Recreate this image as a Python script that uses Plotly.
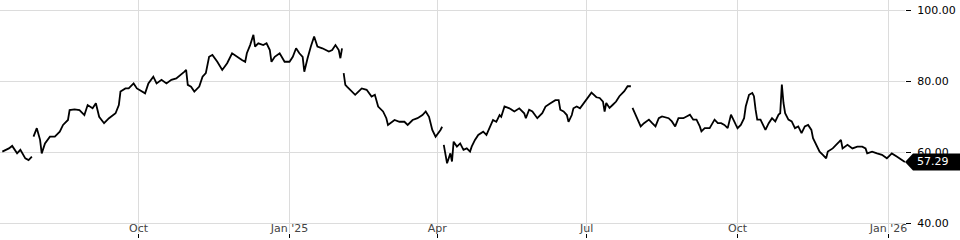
import plotly.graph_objects as go

# ---- data ----
dates = [
    "2024-07-10", "2024-07-14", "2024-07-16", "2024-07-19", "2024-07-21", "2024-07-24", "2024-07-26", "2024-07-28",
    "2024-07-29", "2024-07-31", "2024-08-02", "2024-08-03", "2024-08-05", "2024-08-08", "2024-08-11", "2024-08-14",
    "2024-08-16", "2024-08-19", "2024-08-20", "2024-08-23", "2024-08-26", "2024-08-29", "2024-08-31", "2024-09-03",
    "2024-09-05", "2024-09-07", "2024-09-10", "2024-09-13", "2024-09-17", "2024-09-19", "2024-09-20", "2024-09-23",
    "2024-09-25", "2024-09-28", "2024-09-30",
    "2024-10-03", "2024-10-05", "2024-10-07", "2024-10-10", "2024-10-12", "2024-10-15", "2024-10-18", "2024-10-21",
    "2024-10-24", "2024-10-27", "2024-10-29", "2024-10-30", "2024-10-31", "2024-11-02", "2024-11-04", "2024-11-07",
    "2024-11-09", "2024-11-11", "2024-11-13", "2024-11-15", "2024-11-18", "2024-11-21", "2024-11-24", "2024-11-27",
    "2024-11-30", "2024-12-03", "2024-12-05", "2024-12-06", "2024-12-08", "2024-12-10", "2024-12-11", "2024-12-13",
    "2024-12-16", "2024-12-18", "2024-12-20", "2024-12-21", "2024-12-23", "2024-12-26", "2024-12-29", "2025-01-01",
    "2025-01-03", "2025-01-05", "2025-01-07", "2025-01-09", "2025-01-10", "2025-01-11", "2025-01-12", "2025-01-14",
    "2025-01-16", "2025-01-18", "2025-01-21", "2025-01-25", "2025-01-27", "2025-01-29", "2025-01-31", "2025-02-01",
    "2025-02-02", "2025-02-03", "2025-02-04", "2025-02-05", "2025-02-08", "2025-02-10", "2025-02-12", "2025-02-14",
    "2025-02-17", "2025-02-20", "2025-02-22", "2025-02-24", "2025-02-27", "2025-03-01", "2025-03-02", "2025-03-06",
    "2025-03-09", "2025-03-12", "2025-03-14", "2025-03-17", "2025-03-20", "2025-03-23", "2025-03-25", "2025-03-27",
    "2025-03-29", "2025-03-31",
    "2025-04-03", "2025-04-04", "2025-04-05", "2025-04-06", "2025-04-07", "2025-04-09", "2025-04-10", "2025-04-11",
    "2025-04-13", "2025-04-15", "2025-04-17", "2025-04-19", "2025-04-21", "2025-04-22", "2025-04-24", "2025-04-26",
    "2025-04-29", "2025-05-01", "2025-05-03", "2025-05-05", "2025-05-07", "2025-05-09", "2025-05-10", "2025-05-12",
    "2025-05-15", "2025-05-18", "2025-05-21", "2025-05-24", "2025-05-25", "2025-05-27", "2025-05-29", "2025-06-01",
    "2025-06-04", "2025-06-06", "2025-06-09", "2025-06-12", "2025-06-14", "2025-06-15", "2025-06-17", "2025-06-19",
    "2025-06-20", "2025-06-22", "2025-06-23", "2025-06-25", "2025-06-27", "2025-06-30",
    "2025-07-04", "2025-07-07", "2025-07-09", "2025-07-11", "2025-07-12", "2025-07-13", "2025-07-15", "2025-07-17",
    "2025-07-19", "2025-07-21", "2025-07-24", "2025-07-26", "2025-07-28", "2025-07-29", "2025-07-30", "2025-08-01",
    "2025-08-03", "2025-08-05", "2025-08-08", "2025-08-10", "2025-08-12", "2025-08-14", "2025-08-16", "2025-08-20",
    "2025-08-22", "2025-08-24", "2025-08-26", "2025-08-29", "2025-09-02", "2025-09-04", "2025-09-06", "2025-09-08",
    "2025-09-09", "2025-09-11", "2025-09-14", "2025-09-17", "2025-09-19", "2025-09-21", "2025-09-23", "2025-09-25",
    "2025-09-27", "2025-09-30",
    "2025-10-01", "2025-10-03", "2025-10-05", "2025-10-06", "2025-10-07", "2025-10-08", "2025-10-10", "2025-10-11",
    "2025-10-12", "2025-10-13", "2025-10-15", "2025-10-18", "2025-10-20", "2025-10-22", "2025-10-24", "2025-10-26",
    "2025-10-27", "2025-10-28", "2025-10-29", "2025-10-30", "2025-11-01", "2025-11-03", "2025-11-05", "2025-11-07",
    "2025-11-09", "2025-11-11", "2025-11-13", "2025-11-15", "2025-11-16", "2025-11-18", "2025-11-20", "2025-11-22",
    "2025-11-24", "2025-11-25", "2025-11-28", "2025-12-02", "2025-12-03", "2025-12-04", "2025-12-07", "2025-12-10",
    "2025-12-13", "2025-12-16", "2025-12-18", "2025-12-19", "2025-12-22", "2025-12-25", "2025-12-28", "2025-12-31",
    "2026-01-03", "2026-01-06", "2026-01-09", "2026-01-11",
]

closes = [
    60.2, 61.1, 61.8, 59.7, 60.7, 58.3, 57.8, 58.8,
    64.4, 66.8, 63.5, 59.7, 62.5, 64.4, 64.4, 65.8,
    67.7, 69.1, 71.9, 72.1, 71.9, 70.5, 73.3, 72.4,
    73.8, 70.0, 68.2, 69.6, 71.0, 73.3, 77.1, 78.0,
    78.0, 79.4, 78.0,
    77.1, 76.6, 79.4, 81.3, 79.4, 80.4, 79.4, 80.4,
    80.8, 81.8, 82.7, 83.2, 79.0, 78.5, 77.1, 78.5,
    81.3, 82.3, 86.9, 87.4, 85.5, 83.2, 85.1, 87.9,
    86.9, 86.0, 85.5, 87.9, 90.2, 93.1, 89.8, 90.7,
    90.2, 90.7, 88.8, 85.5, 86.9, 87.9, 85.5, 85.5,
    86.9, 89.3, 87.9, 86.9, 82.7, 85.1, 86.5, 89.8,
    92.6, 89.8, 89.3, 88.4, 88.8, 90.2, 88.8, 86.5,
    89.3, 82.3, 79.0, 78.5, 77.1, 76.2, 77.1, 78.0,
    77.6, 75.7, 76.2, 72.9, 71.5, 69.6, 67.7, 69.1,
    68.6, 68.6, 67.7, 69.1, 69.6, 70.5, 71.5, 70.0,
    66.3, 64.4,
    66.3, 67.2, 62.1, 59.7, 56.9, 59.7, 57.4, 63.0,
    61.6, 62.5, 60.7, 61.1, 60.2, 61.6, 63.5, 64.9,
    65.8, 64.9, 66.8, 69.1, 68.6, 70.5, 70.0, 72.9,
    72.4, 71.5, 72.4, 71.0, 69.6, 72.0, 71.5, 69.6,
    71.0, 72.9, 73.8, 74.7, 74.7, 72.0, 71.5, 70.5,
    68.6, 70.5, 72.4, 72.9, 72.4, 74.3,
    76.8, 75.5, 75.3, 74.3, 71.5, 73.9, 72.5, 73.4,
    74.3, 75.8, 77.2, 78.6, 78.6, 72.5, 71.5, 69.2,
    67.3, 68.2, 69.2, 68.2, 67.3, 69.6, 70.1, 69.6,
    68.7, 67.3, 69.6, 69.6, 70.6, 69.2, 69.2, 67.3,
    65.9, 66.8, 66.8, 69.2, 68.2, 68.2, 67.7, 66.8,
    70.6, 67.7,
    66.8, 67.7, 69.6, 72.9, 74.8, 76.2, 76.7, 75.8,
    72.0, 69.2, 69.2, 66.3, 68.2, 69.6, 68.7, 70.6,
    71.0, 79.1, 73.9, 71.0, 69.2, 68.7, 66.8, 67.3,
    65.4, 67.3, 67.7, 66.3, 64.0, 62.1, 60.2, 59.3,
    58.3, 60.2, 61.1, 63.0, 63.5, 61.1, 62.1, 61.1,
    61.6, 61.6, 61.1, 59.7, 60.2, 59.7, 59.3, 58.3,
    59.7, 58.8, 57.8, 57.29,
]

# dates where the price line restarts after a visible break
gap_starts = ["2024-07-29", "2025-02-03", "2025-04-05", "2025-07-29"]

tick_dates = ["2024-10-01", "2025-01-01", "2025-04-01", "2025-07-01", "2025-10-01", "2026-01-01"]
tick_labels = ["Oct", "Jan '25", "Apr", "Jul", "Oct", "Jan '26"]

y_ticks = [40, 60, 80, 100]

# ---- build broken line ----
xs, ys = [], []
for d, v in zip(dates, closes):
    if d in gap_starts:
        xs.append(d)
        ys.append(None)
    xs.append(d)
    ys.append(v)

fig = go.Figure()
fig.add_trace(go.Scatter(
    x=xs, y=ys, mode="lines", connectgaps=False,
    line=dict(color="#000000", width=1.8),
    hoverinfo="skip", showlegend=False,
))

last = closes[-1]

fig.update_layout(
    width=960, height=240,
    margin=dict(l=0, r=55, t=0, b=7),
    paper_bgcolor="white", plot_bgcolor="white",
    font=dict(family="DejaVu Sans", size=11, color="#000000"),
    showlegend=False,
    xaxis=dict(
        type="date",
        range=["2024-07-08 14:00", "2026-01-11 01:00"],
        tickvals=tick_dates, ticktext=tick_labels,
        showgrid=True, gridcolor="#dcdcdc", gridwidth=1,
        ticks="outside", ticklen=4, tickcolor="#000000", tickwidth=1,
        ticklabelposition="inside", ticklabeloverflow="allow",
        ticklabelstandoff=-4,
        showline=False, zeroline=False, fixedrange=True,
    ),
    yaxis=dict(
        side="right",
        range=[37.27, 102.9],
        tickvals=y_ticks, tickformat=".2f",
        showgrid=True, gridcolor="#dcdcdc", gridwidth=1,
        ticks="outside", ticklen=5, tickcolor="#000000", tickwidth=1,
        ticklabelstandoff=4, ticklabeloverflow="allow",
        showline=False, zeroline=False, fixedrange=True,
    ),
)

# last-price tag
fig.add_shape(
    type="path", xref="paper", yref="y",
    xsizemode="pixel", ysizemode="pixel", xanchor=1, yanchor=last,
    path="M0,0 L8,8.5 L56,8.5 L56,-8.5 L8,-8.5 Z",
    fillcolor="#000000", line=dict(width=0), layer="above",
)
fig.add_annotation(
    x=1, xref="paper", y=last, yref="y",
    text=f"{last:.2f}", showarrow=False, xanchor="left", xshift=10,
    font=dict(color="white", size=11, family="DejaVu Sans"),
)

fig.write_html("out.html")
